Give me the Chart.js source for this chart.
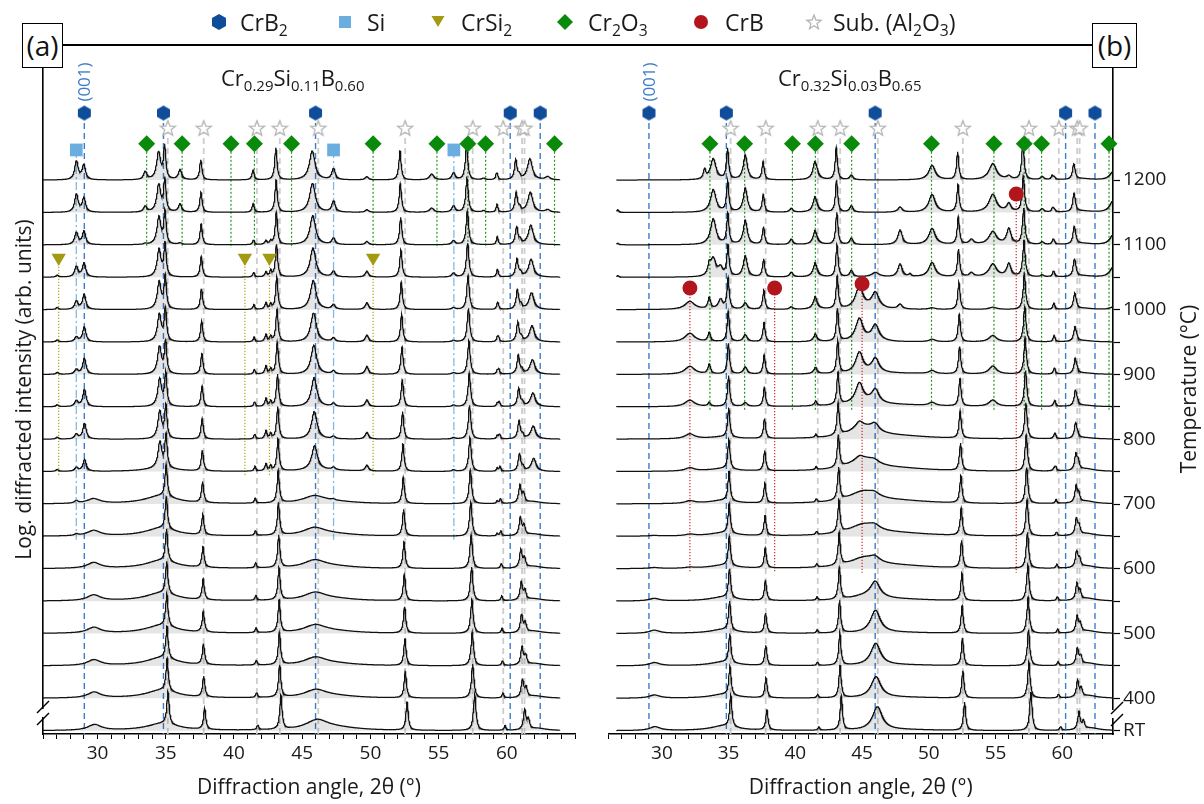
<!DOCTYPE html>
<html><head><meta charset="utf-8">
<script src="https://cdn.jsdelivr.net/npm/chart.js"></script>
<style>
body{margin:0;background:#fff;font-family:'Open Sans','DejaVu Sans',sans-serif;}
#wrap{position:relative;width:1204px;height:804px;overflow:hidden;background:#fff}
canvas{position:absolute;top:0}
.t{position:absolute;white-space:nowrap;color:#1a1a1a}
.sb{font-size:0.68em;position:relative;top:0.32em;line-height:0}
.box{position:absolute;top:23px;height:43px;border:1.5px solid #000;background:#fff;font-size:28px;line-height:42px;text-align:center;color:#111}
</style></head>
<body><div id="wrap">
<canvas id="ca" width="600" height="804" style="left:0;width:600px;height:804px"></canvas>
<canvas id="cb" width="604" height="804" style="left:600px;width:604px;height:804px"></canvas>
</div>
<script>
// ---------- data ----------
const TEMPS = ['RT','400','450','500','550','600','650','700','750','800','850','900','950','1000','1050','1100','1150','1200'];
// thermal peak shift (deg at 2θ≈57.5) for each trace
const SHIFT = [-0.15,0,0.03,0.06,0.08,0.11,0.14,0.17,0.2,0.23,0.25,0.28,0.31,0.34,0.37,0.39,0.42,0.45];
const X_LABELS = [30, 35, 40, 45, 50, 55, 60];

// reference reflection positions (markers)
const CRB2_POS  = [29.03, 34.83, 45.98, 60.25, 62.45];
const SUB_POS   = [35.15, 37.78, 41.68, 43.36, 46.18, 52.55, 57.5, 59.74, 61.12, 61.3];
const CR2O3_POS = [33.6, 36.2, 39.78, 41.5, 44.22, 50.2, 54.88, 57.15, 58.45, 63.5];
const SI_POS    = [28.44, 47.3, 56.12];
const CRSI2_POS = [27.15, 40.8, 42.6, 50.2];
const CRB_POS   = [32.1, 38.45, 45.0, 56.55];
const CRB_Y     = [13.67, 13.67, 13.8, 16.57];

// marker heights / line extents (trace units)
const Y_CRB2 = 19.07, Y_SUB = 18.61, Y_CR2O3 = 18.12, Y_SI = 17.93, Y_CRSI2 = 14.6;
const BOT_AXIS = -0.1, BOT_CR2O3_A = 14.9, BOT_CR2O3_B = 9.9, BOT_SI = 5.9, BOT_CRSI2 = 7.84, BOT_CRB = 4.88;

// Panel (a) peaks: position, half width, shift factor, heights per trace
const A_POS = [35.1,37.78,41.66,43.35,52.56,57.5,59.72,61.15,61.42, 29.75,34.7,46.0,47.5,62.1, 29.1,34.65,46.05,62.2, 28.45,47.3,56.1, 27.05,42.35,42.7,49.75, 33.5,36.05,41.4,54.5,58.3,63.0,59.3];
const A_WID = [.1,.1,.08,.1,.1,.11,.08,.11,.1, .6,1.4,1.0,2.0,.8, .15,.17,.25,.22, .15,.15,.15, .12,.1,.08,.15, .15,.15,.12,.2,.15,.2,.07];
const A_K   = [1,1,1,1,1,1,1,1,1, 1,1,1,1,1, 1,1,1,1, 0,0,0, 0,0,0,0, 0,0,0,0,0,0,0];
const A_H = [
 [1,1,1,1,1,1,1,1,1,1,1,1,1,1,1,1,1,1],
 [.64,.64,.64,.64,.64,.64,.64,.64,.64,.64,.64,.64,.64,.64,.64,.64,.62,.62],
 [.15,.15,.15,.15,.15,.15,.15,.15,.15,.15,.15,.15,.15,.15,.15,.15,.15,.15],
 [1.05,1,1,1,1,1,1,1,1,1,1,1,1,1,1,1,1,1],
 [.87,.82,.82,.82,.82,.82,.82,.82,.85,.85,.85,.85,.85,.85,.85,.85,.9,.9],
 [1.12,1.05,1.05,1.05,1.05,1.05,1.05,1.05,1.05,1.05,1.05,1.05,1.05,1.05,1.05,1.05,1.05,1.05],
 [.15,.15,.15,.15,.15,.15,.15,.15,.15,.15,.15,.15,.15,.15,.15,.15,.15,.15],
 [.6,.55,.55,.55,.55,.55,.55,.55,.55,.55,.55,.58,.6,.6,.55,.55,.6,.6],
 [.3,.28,.28,.28,.28,.28,.28,.28,.12,.12,.12,.12,.12,.12,.12,.12,.12,.12],
 [.18,.18,.18,.18,.18,.18,.17,.15,0,0,0,0,0,0,0,0,0,0],
 [.22,.25,.25,.25,.25,.25,.25,.25,.1,0,0,0,0,0,0,0,0,0],
 [.3,.24,.24,.24,.24,.24,.24,.22,.05,0,0,0,0,0,0,0,0,0],
 [.08,.06,.06,.06,.06,.06,.06,.06,.03,0,0,0,0,0,0,0,0,0],
 [.07,.07,.07,.07,.07,.07,.07,.07,0,0,0,0,0,0,0,0,0,0],
 [0,0,0,0,0,0,0,0,.36,.49,.53,.49,.46,.46,.43,.41,.43,.46],
 [0,0,0,0,0,0,0,0,.8,.85,.85,.85,.85,.85,.85,.85,.85,.85],
 [0,0,0,0,0,0,0,0,.72,.85,.9,.9,.9,.9,.9,.9,.9,.9],
 [0,0,0,0,0,0,0,0,.4,.4,.42,.45,.5,.52,.55,.6,.62,.65],
 [0,0,0,0,0,0,.05,.08,.12,.15,.18,.15,.15,.26,.33,.38,.56,.58],
 [0,0,0,0,0,0,0,.03,.08,.08,.1,.1,.12,.15,.18,.2,.35,.35],
 [0,0,0,0,0,0,0,0,.05,.05,.05,.05,.05,.06,.13,.13,.2,.22],
 [0,0,0,0,0,0,0,0,.06,.06,.06,.06,.06,.06,.06,0,0,0],
 [0,0,0,0,0,0,0,0,.22,.25,.25,.25,.22,.2,.15,.12,0,0],
 [0,0,0,0,0,0,0,0,.15,.15,.15,.15,.15,.15,.18,.1,0,0],
 [0,0,0,0,0,0,0,0,.18,.21,.21,.24,.21,.21,.18,.1,.08,.1],
 [0,0,0,0,0,0,0,0,0,0,0,0,0,0,0,.03,.18,.25],
 [0,0,0,0,0,0,0,0,0,0,0,0,0,0,0,.05,.25,.31],
 [0,0,0,0,0,0,0,0,0,0,0,0,0,0,0,0,.12,.15],
 [0,0,0,0,0,0,0,0,0,0,0,0,0,0,0,0,.13,.18],
 [0,0,0,0,0,0,0,0,0,0,0,0,0,0,0,0,.05,.05],
 [0,0,0,0,0,0,0,0,0,0,0,0,0,0,0,0,.08,.1],
 [0,0,0,0,0,0,.08,.08,.1,.1,.1,.1,.1,.1,.1,.1,.1,.1]
];

// Panel (b) peaks
const B_POS = [35.1,37.8,41.68,43.35,52.55,57.5,59.72,61.15,61.42, 29.45,34.6,46.05,46.0,45.2,48.0,44.8,32.1,62.0, 33.2,33.55,33.85,34.4,36.25,39.7,41.5,44.2,47.85,48.6,50.25,53.2,54.8,56.0,58.5,59.4,63.8,26.7];
const B_WID = [.1,.1,.08,.1,.1,.11,.08,.11,.1, .5,1.2,.45,.35,1.3,3,.35,.45,.8, .1,.12,.25,.2,.18,.15,.22,.15,.2,.1,.3,.2,.35,.2,.15,.1,.3,.1];
const B_K   = [1,1,1,1,1,1,1,.6,1, 1,1,1,0,1,1,0,0,1, 0,0,0,0,0,0,0,0,0,0,0,0,0,0,0,0,0,0];
const B_H = [
 [.97,.9,.9,.9,.9,.92,.92,.92,.92,.92,.95,.95,.95,.95,.95,.95,.95,.95],
 [.62,.62,.62,.62,.62,.62,.62,.62,.62,.62,.6,.6,.6,.6,.55,.55,.55,.56],
 [.1,.1,.1,.1,.1,.1,.1,.1,.1,.1,.1,.1,.1,.1,.1,.1,.1,.1],
 [1.05,1,1,1,1,1,1,1,1,1,1,1,1,1,1,1,1,1],
 [.87,.85,.85,.85,.85,.85,.85,.85,.85,.85,.85,.85,.85,.85,.85,.85,.85,.85],
 [1.18,1.12,1.12,1.12,1.12,1.12,1.12,1.12,1.12,1.12,1.12,1.12,1.12,1.12,1.12,1.12,1.12,1.12],
 [.12,.12,.12,.12,.12,.12,.12,.12,.12,.12,.12,.12,.12,.12,.12,.12,.12,.12],
 [.55,.5,.5,.5,.5,.5,.5,.5,.48,.48,.48,.45,.42,.45,.5,.5,.5,.4],
 [.25,.25,.25,.25,.25,.25,.25,.25,.25,.1,.1,.1,.1,.1,.1,.1,.1,.1],
 [.12,.1,.1,.1,.08,.03,.02,0,0,0,0,0,0,0,0,0,0,0],
 [.15,.12,.12,.12,.12,.1,.1,.1,.08,.06,0,0,0,0,0,0,0,0],
 [.72,.65,.68,.7,.5,.15,.12,.1,.1,.1,0,0,0,0,0,0,0,0],
 [0,0,0,0,0,0,0,0,0,.15,.42,.45,.5,.5,.14,0,0,0],
 [0,0,0,0,.12,.3,.33,.35,.35,.3,.1,0,0,0,0,0,0,0],
 [.03,.03,.03,.03,.05,.08,.08,.08,.08,.08,.05,.03,0,0,0,0,0,0],
 [0,0,0,0,0,0,0,0,.1,.2,.6,.65,.7,.7,0,0,0,0],
 [0,0,0,0,0,.03,.05,.08,.1,.15,.2,.25,.27,.25,0,0,0,0],
 [.08,.08,.08,.08,.08,.08,.08,.08,.08,.04,.04,.04,.04,.04,.04,.04,.04,.04],
 [0,0,0,0,0,0,0,0,0,0,0,0,0,0,0,0,0,.3],
 [0,0,0,0,0,0,0,0,0,0,.12,.3,.28,.35,.3,0,0,0],
 [0,0,0,0,0,0,0,0,0,0,0,0,0,0,.55,.8,.7,.65],
 [0,0,0,0,0,0,0,0,0,0,0,0,0,.3,.25,0,0,0],
 [0,0,0,0,0,0,0,0,0,0,.12,.22,.22,.2,.65,.75,.75,.77],
 [0,0,0,0,0,0,0,0,0,0,0,0,0,.08,.15,.17,.12,0],
 [0,0,0,0,0,0,0,0,0,0,.05,.12,.15,.3,.35,.35,.4,.5],
 [0,0,0,0,0,0,0,0,0,0,0,0,0,0,.2,.2,.2,.15],
 [0,0,0,0,0,0,0,0,0,0,0,0,0,.15,.4,.45,.16,0],
 [0,0,0,0,0,0,0,0,0,0,0,0,0,0,.08,0,0,0],
 [0,0,0,0,0,0,0,0,0,0,.1,.1,.08,.05,.45,.5,.55,.45],
 [0,0,0,0,0,0,0,0,0,0,0,0,0,0,.12,.15,0,0],
 [0,0,0,0,0,0,0,0,0,0,.2,.25,.2,.07,.4,.4,.55,.5],
 [0,0,0,0,0,0,0,0,0,0,0,0,0,0,.4,.48,.25,.1],
 [0,0,0,0,0,0,0,0,0,0,0,0,0,0,.06,.08,.1,.1],
 [0,0,0,0,0,0,0,0,.08,.08,.08,.08,.08,.08,.08,.08,.08,.08],
 [0,0,0,0,0,0,0,0,0,0,0,0,0,.08,.3,.3,.35,.25],
 [0,0,0,0,0,0,0,0,0,0,0,0,0,0,.05,.05,.08,0]
];

// ---------- build ----------
const FONT = "'Open Sans','DejaVu Sans',sans-serif";
Chart.defaults.font.family = FONT;
Chart.defaults.color = '#1a1a1a';
const STEP = 0.02;

function makeTraces(pos, wid, k, H, x0, x1) {
  const out = [];
  const n = Math.round((x1 - x0) / STEP);
  for (let i = 0; i < TEMPS.length; i++) {
    const c = pos.map((p, j) => p - k[j] * SHIFT[i] * (p - 20) / 37.5);
    const pts = [];
    for (let s = 0; s <= n; s++) {
      const x = x0 + s * STEP;
      let y = i;
      for (let j = 0; j < pos.length; j++) {
        const h = H[j][i] || 0; if (!h) continue;
        const d = (x - c[j]) / wid[j];
        y += h / (1 + d * d);
      }
      pts.push({x: x, y: y});
    }
    out.push(pts);
  }
  return out;
}
function traceSets(tr) {
  return tr.map((pts, i) => ({ data: pts, borderColor: '#111', borderWidth: 1.25, pointRadius: 0,
    fill: {value: i}, backgroundColor: 'rgba(0,0,0,0.1)', tension: 0, order: 2, parsing: false }));
}
function refSets(positions, top, bottom, color, dash, width) {
  return positions.map((p, j) => ({ data: [{x: p, y: Array.isArray(top) ? top[j] : top}, {x: p, y: bottom}],
    borderColor: color, borderWidth: width, borderDash: dash, pointRadius: 0, fill: false, order: 3, parsing: false }));
}
function markerSet(positions, ys, style, radius, color, rot) {
  return { data: positions.map((p, j) => ({x: p, y: Array.isArray(ys) ? ys[j] : ys})), showLine: false,
    pointStyle: style, pointRadius: radius, pointBackgroundColor: color, pointBorderWidth: 0,
    pointRotation: rot || 0, order: 1, clip: false, parsing: false };
}
function hexImg(color, r) {
  const c = document.createElement('canvas'); const s = Math.ceil(2 * r + 2); c.width = c.height = s;
  const g = c.getContext('2d'); g.fillStyle = color; g.beginPath();
  for (let a = 0; a < 6; a++) { const an = Math.PI / 180 * (60 * a - 90);
    const px = s / 2 + r * Math.cos(an), py = s / 2 + r * Math.sin(an); a ? g.lineTo(px, py) : g.moveTo(px, py); }
  g.closePath(); g.fill(); return c;
}
function starPts(cx, cy, R, r) {
  const p = []; for (let a = 0; a < 10; a++) { const an = Math.PI / 5 * a - Math.PI / 2; const rr = a % 2 ? r : R;
    p.push([cx + rr * Math.cos(an), cy + rr * Math.sin(an)]); } return p;
}
function starImg(color, R, r) {
  const c = document.createElement('canvas'); const s = Math.ceil(2 * R + 4); c.width = c.height = s;
  const g = c.getContext('2d'); const p = starPts(s / 2, s / 2 + 0.8, R, r);
  g.beginPath(); p.forEach((q, i) => i ? g.lineTo(q[0], q[1]) : g.moveTo(q[0], q[1])); g.closePath();
  g.fillStyle = '#fff'; g.fill(); g.strokeStyle = color; g.lineWidth = 1.3; g.stroke(); return c;
}
const HEX = hexImg('#0f4c9a', 7.5);
const STAR = starImg('#b4b4b4', 8, 3.4);

const C_CRB2 = '#3d7cc9', C_SUB = '#cdcdcd', C_CRO = '#1e9a1e', C_SI = '#7dbbe6', C_CRSI2 = '#b3a516', C_CRB = '#d02a30';

const breakPlugin = {
  id: 'axisBreak',
  afterDraw(chart, args, o) {
    const {ctx, chartArea} = chart;
    const x = o.side === 'left' ? chartArea.left : chartArea.right;
    ctx.save();
    ctx.fillStyle = '#fff'; ctx.fillRect(x - 2, o.y - 4, 4, 8);
    ctx.strokeStyle = '#000'; ctx.lineWidth = 1.5;
    for (const dy of [-6, 6]) { ctx.beginPath(); ctx.moveTo(x + o.dx - 6, o.y + dy + 6); ctx.lineTo(x + o.dx + 6, o.y + dy - 6); ctx.stroke(); }
    ctx.restore();
  }
};

function xScale(min, max) {
  return { type: 'linear', min: min, max: max, afterFit: s => { s.height = 70; },
    ticks: { stepSize: 1, autoSkip: false, maxRotation: 0, includeBounds: false, font: {size: 19}, padding: 3,
      callback: v => (X_LABELS.includes(v) ? String(v) : '') },
    grid: { drawOnChartArea: false, tickLength: 5, color: '#000', tickWidth: 1 },
    border: { color: '#000', width: 1.6 },
    title: { display: true, text: 'Diffraction angle, 2θ (°)', font: {size: 21}, padding: {top: 0, bottom: 3} } };
}

// Panel (a)
const trA = makeTraces(A_POS, A_WID, A_K, A_H, 26.0, 63.9);
const dsA = [
  markerSet(CRB2_POS, Y_CRB2, HEX, 7),
  markerSet(SUB_POS, Y_SUB, STAR, 7),
  markerSet(CR2O3_POS, Y_CR2O3, 'rectRot', 8.5, '#0a8a0a'),
  markerSet(SI_POS, Y_SI, 'rect', 9, '#6aaee0'),
  markerSet(CRSI2_POS, Y_CRSI2, 'triangle', 8.3, '#a39a12', 180),
  ...traceSets(trA),
  ...refSets(CRB2_POS, Y_CRB2, BOT_AXIS, C_CRB2, [6, 4], 1.4),
  ...refSets(SUB_POS, Y_SUB, BOT_AXIS, C_SUB, [6, 4], 1.8),
  ...refSets(CR2O3_POS, Y_CR2O3, BOT_CR2O3_A, C_CRO, [2, 2], 1.2),
  ...refSets(SI_POS, Y_SI, BOT_SI, C_SI, [8, 3, 2, 3], 1.3),
  ...refSets(CRSI2_POS, Y_CRSI2, BOT_CRSI2, C_CRSI2, [1.2, 1.8], 1.2)
];
const chartA = new Chart(document.getElementById('ca'), {
  type: 'line', data: { datasets: dsA }, plugins: [breakPlugin],
  options: { animation: false, responsive: false, events: [],
    layout: { padding: { top: 45, right: 25, left: 0, bottom: 0 } },
    plugins: { legend: {display: false}, tooltip: {enabled: false}, axisBreak: { side: 'left', y: 713, dx: 0 } },
    scales: {
      x: xScale(26, 65),
      y: { type: 'linear', min: -0.1, max: 21.17, afterFit: s => { s.width = 43; },
        ticks: { display: false }, grid: { display: false }, border: { color: '#000', width: 1.6 },
        title: { display: true, text: 'Log. diffracted intensity (arb. units)', font: {size: 21}, padding: {top: 12, bottom: 0} } }
    } }
});

// Panel (b)
const trB = makeTraces(B_POS, B_WID, B_K, B_H, 26.6, 63.8);
const dsB = [
  markerSet(CRB2_POS, Y_CRB2, HEX, 7),
  markerSet(SUB_POS, Y_SUB, STAR, 7),
  markerSet(CR2O3_POS, Y_CR2O3, 'rectRot', 8.5, '#0a8a0a'),
  markerSet(CRB_POS, CRB_Y, 'circle', 7.5, '#b3151c'),
  ...traceSets(trB),
  ...refSets(CRB2_POS, Y_CRB2, BOT_AXIS, C_CRB2, [6, 4], 1.4),
  ...refSets(SUB_POS, Y_SUB, BOT_AXIS, C_SUB, [6, 4], 1.8),
  ...refSets(CR2O3_POS, Y_CR2O3, BOT_CR2O3_B, C_CRO, [2, 2], 1.2),
  ...refSets(CRB_POS, CRB_Y, BOT_CRB, C_CRB, [1.2, 1.8], 1.2)
];
const chartB = new Chart(document.getElementById('cb'), {
  type: 'line', data: { datasets: dsB }, plugins: [breakPlugin],
  options: { animation: false, responsive: false, events: [],
    layout: { padding: { top: 45, right: 0, left: 0, bottom: 0 } },
    plugins: { legend: {display: false}, tooltip: {enabled: false}, axisBreak: { side: 'right', y: 714, dx: 4 } },
    scales: {
      x: xScale(26, 63.8),
      y: { type: 'linear', position: 'right', min: -0.1, max: 21.17, afterFit: s => { s.width = 91; },
        afterBuildTicks: ax => { ax.ticks = TEMPS.map((t, i) => ({ value: i })); },
        ticks: { autoSkip: false, font: {size: 19}, padding: 3,
          callback: v => { const t = TEMPS[v]; return (t === 'RT' || (+t) % 100 === 0) ? t : ''; } },
        grid: { drawOnChartArea: false, tickLength: 7, color: '#000', tickWidth: 1.2 },
        border: { color: '#000', width: 1.6 } }
    } }
});

// ---------- overlays (frame, legend, labels) ----------
const wrap = document.getElementById('wrap');
function add(html, style, cls) { const d = document.createElement('div'); d.className = cls || 't'; d.style.cssText += style; d.innerHTML = html; wrap.appendChild(d); return d; }
add('', 'left:40px;top:44px;width:1076px;height:1.6px;background:#000', 't');
add('(a)', 'left:22px;width:39px', 'box');
add('(b)', 'left:1092px;width:43px', 'box');

const sym = {
  hex: '<svg width="18" height="18"><polygon points="9,1 16,5 16,13 9,17 2,13 2,5" fill="#0f4c9a"/></svg>',
  sq: '<svg width="14" height="14"><rect x="1" y="1" width="12" height="12" fill="#6aaee0"/></svg>',
  tri: '<svg width="16" height="14"><polygon points="1.5,2 14.5,2 8,13" fill="#a39a12"/></svg>',
  dia: '<svg width="18" height="18"><polygon points="9,1 17,9 9,17 1,9" fill="#0a8a0a"/></svg>',
  cir: '<svg width="16" height="16"><circle cx="8" cy="8" r="7" fill="#b3151c"/></svg>',
  star: '<svg width="18" height="18"><polygon points="' + starPts(9, 9.6, 7.5, 3.2).map(q => q[0].toFixed(2) + ',' + q[1].toFixed(2)).join(' ') + '" fill="#fff" stroke="#b4b4b4" stroke-width="1.3"/></svg>'
};
const LEG = [
  ['hex', 219, 18, 240, 'CrB<span class="sb">2</span>'],
  ['sq', 345, 14, 367, 'Si'],
  ['tri', 438, 16, 461, 'CrSi<span class="sb">2</span>'],
  ['dia', 565, 18, 588, 'Cr<span class="sb">2</span>O<span class="sb">3</span>'],
  ['cir', 701, 16, 725, 'CrB'],
  ['star', 814, 18, 833, 'Sub. (Al<span class="sb">2</span>O<span class="sb">3</span>)']
];
LEG.forEach(l => {
  add(sym[l[0]], 'left:' + (l[1] - l[2] / 2) + 'px;top:' + (22 - l[2] / 2) + 'px;line-height:0');
  add(l[4], 'left:' + l[3] + 'px;top:10px;font-size:23px;line-height:24px');
});
add('Cr<span class="sb">0.29</span>Si<span class="sb">0.11</span>B<span class="sb">0.60</span>', 'left:221px;top:65px;font-size:22px;line-height:24px');
add('Cr<span class="sb">0.32</span>Si<span class="sb">0.03</span>B<span class="sb">0.65</span>', 'left:778px;top:65px;font-size:22px;line-height:24px');
add('Temperature (°C)', 'left:' + (1188 - 130) + 'px;top:' + (389 - 12) + 'px;width:260px;text-align:center;font-size:21px;line-height:24px;transform:rotate(-90deg)');

const xa = chartA.scales.x.getPixelForValue(CRB2_POS[0]);
const xb = 600 + chartB.scales.x.getPixelForValue(CRB2_POS[0]);
[xa, xb].forEach(x => add('(001)', 'left:' + (x - 30) + 'px;top:' + (82 - 10) + 'px;width:60px;text-align:center;font-size:17px;line-height:20px;color:#3d7cc9;transform:rotate(-90deg)'));
</script>
</body></html>
